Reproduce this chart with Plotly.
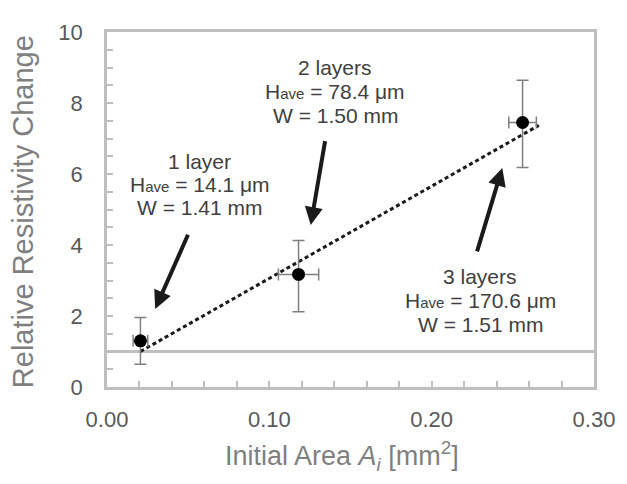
import plotly.graph_objects as go

# Data
area = [0.0206, 0.118, 0.256]
resist = [1.30, 3.17, 7.45]
err_y_plus = [0.66, 0.96, 1.19]
err_y_minus = [0.66, 1.05, 1.27]
err_x = [0.0045, 0.0124, 0.0085]

trend_x = [0.0206, 0.266]
trend_y = [1.00, 7.37]

baseline_y = 1.0

labels = [
    ["1 layer", "H<span style='font-size:15px'>ave</span> = 14.1 μm", "W = 1.41 mm"],
    ["2 layers", "H<span style='font-size:15px'>ave</span> = 78.4 μm", "W = 1.50 mm"],
    ["3 layers", "H<span style='font-size:15px'>ave</span> = 170.6 μm", "W = 1.51 mm"],
]
label_x = [0.057, 0.1406, 0.2300]
label_y = [[6.36, 5.71, 5.05], [9.00, 8.32, 7.66], [3.10, 2.43, 1.76]]

arrow_tail = [(0.0503, 4.33), (0.1345, 6.97), (0.2277, 3.78)]
arrow_head = [(0.0297, 2.20), (0.1255, 4.56), (0.2435, 6.17)]

FONT = "Liberation Sans, Arial, sans-serif"

fig = go.Figure()

fig.add_trace(go.Scatter(
    x=trend_x, y=trend_y, mode="lines",
    line=dict(color="#1a1a1a", width=3, dash="4px,3px"),
    hoverinfo="skip", showlegend=False,
))

fig.add_trace(go.Scatter(
    x=area, y=resist, mode="markers",
    marker=dict(color="black", size=13),
    error_y=dict(type="data", array=err_y_plus, arrayminus=err_y_minus,
                 color="#7f7f7f", thickness=1.5, width=6),
    error_x=dict(type="data", array=err_x, color="#7f7f7f", thickness=1.5, width=6),
    showlegend=False,
))

fig.add_shape(type="line", xref="paper", yref="y", x0=0, x1=1,
              y0=baseline_y, y1=baseline_y,
              line=dict(color="#bfbfbf", width=3), layer="below")

annotations = []
for i, lines in enumerate(labels):
    for j, t in enumerate(lines):
        annotations.append(dict(
            x=label_x[i], y=label_y[i][j], xref="x", yref="y", text=t,
            showarrow=False, xanchor="center", yanchor="middle",
            font=dict(family=FONT, size=21, color="#404040"),
        ))
for (tx, ty), (hx, hy) in zip(arrow_tail, arrow_head):
    annotations.append(dict(
        x=hx, y=hy, ax=tx, ay=ty, xref="x", yref="y", axref="x", ayref="y",
        text="", showarrow=True, arrowhead=2, arrowsize=0.9, arrowwidth=4,
        arrowcolor="#1a1a1a", standoff=0,
    ))

annotations.append(dict(
    x=0.482, y=-0.194, xref="paper", yref="paper",
    text="Initial Area <i>A<sub>i</sub></i> [mm<sup>2</sup>]",
    showarrow=False, xanchor="center", yanchor="middle",
    font=dict(family=FONT, size=27, color="#7f7f7f"),
))
annotations.append(dict(
    x=-0.171, y=0.4945, xref="paper", yref="paper",
    text="Relative Resistivity Change", textangle=-90,
    showarrow=False, xanchor="center", yanchor="middle",
    font=dict(family=FONT, size=29, color="#7f7f7f"),
))

axis_common = dict(
    showgrid=False, zeroline=False, showline=True, mirror=True,
    linecolor="#bfbfbf", linewidth=2.5,
    ticks="inside", ticklen=6, tickcolor="#bfbfbf", tickwidth=1.5,
    tickfont=dict(family=FONT, size=22, color="#595959"),
)

# The page body has an 8px default margin; compensate so the plot area
# lands at the same window position as the reference.
fig.update_layout(
    width=619, height=476,
    margin=dict(l=99, r=26, t=13, b=97),
    paper_bgcolor="white", plot_bgcolor="white",
    xaxis=dict(range=[0, 0.30], dtick=0.1, tickformat=".2f",
               minor=dict(dtick=0.02, ticks="inside", ticklen=6,
                          tickcolor="#bfbfbf", tickwidth=1.5),
               ticklabelstandoff=11, **axis_common),
    yaxis=dict(range=[0, 10], dtick=2,
               minor=dict(dtick=0.5, ticks="inside", ticklen=6,
                          tickcolor="#bfbfbf", tickwidth=1.5),
               ticklabelstandoff=17, **axis_common),
    annotations=annotations,
)

fig.write_html("out.html")
